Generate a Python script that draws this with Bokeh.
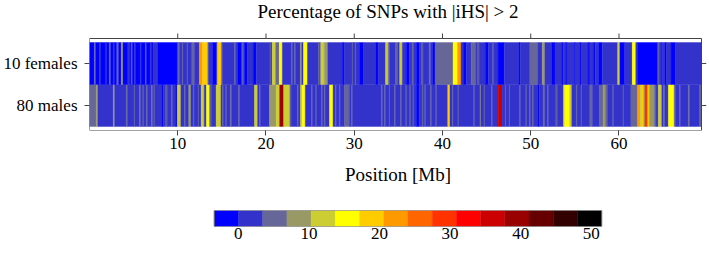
import numpy as np
from bokeh.plotting import figure
from bokeh.models import Range1d, FixedTicker, LinearAxis, ColumnDataSource
from bokeh.core.properties import value
from bokeh.layouts import column
from bokeh.transform import linear_cmap
from bokeh.embed import file_html
from bokeh.resources import INLINE

# ---------------- data ----------------
title_text = "Percentage of SNPs with |iHS| > 2"
x_label = "Position [Mb]"
row_labels = ["80 males", "10 females"]          # bottom row, top row
row_ticks = [0.5, 1.5]
x_ticks = [10, 20, 30, 40, 50, 60]
cbar_ticks = [0, 10, 20, 30, 40, 50]
chrom_end = 69.3                                  # Mb, end of last window

# segment start positions (Mb) and percentage of SNPs with |iHS| > 2
fem_start = [0.0, 0.55, 0.7, 1.15, 1.3, 1.85, 1.95, 2.25, 2.4, 2.7, 2.8, 3.1, 3.3, 3.6, 3.8,
             4.35, 4.6, 4.75, 4.85, 5.1, 5.2, 5.75, 5.85, 6.35, 6.45, 6.9, 7.0, 7.2, 7.75,
             9.95, 10.1, 10.2, 10.5, 10.6, 11.05, 11.15, 11.6, 11.9, 12.45, 12.8, 13.4, 13.5,
             13.95, 14.4, 14.5, 14.95, 15.05, 16.45, 16.55, 16.8, 17.25, 17.35, 17.45, 17.55,
             17.9, 18.55, 18.9, 20.45, 20.55, 20.7, 21.1, 21.5, 21.85, 22.9, 23.0, 23.25, 23.35,
             23.9, 24.05, 24.25, 24.7, 25.95, 26.05, 26.2, 26.6, 27.0, 28.65, 28.85, 29.75,
             29.85, 30.1, 30.2, 30.6, 31.05, 32.45, 32.7, 33.55, 33.85, 34.0, 34.7, 34.95,
             35.15, 35.45, 35.9, 36.25, 36.55, 36.7, 37.05, 37.4, 37.65, 37.8, 38.5, 38.65,
             38.9, 39.15, 41.2, 41.7, 42.1, 42.35, 42.7, 43.25, 43.8, 44.0, 44.15, 44.85, 45.2,
             45.7, 45.8, 46.3, 47.0, 48.65, 48.8, 49.9, 50.8, 51.3, 51.6, 52.4, 52.75, 53.55,
             53.7, 53.95, 54.1, 54.95, 55.1, 55.55, 55.7, 56.5, 56.7, 57.1, 57.3, 57.7, 58.1,
             59.85, 60.1, 60.65, 61.5, 61.9, 62.1, 64.4, 64.55, 64.8, 64.95, 65.2, 65.4, 65.9,
             66.4]
fem_pct = [0, 5, 0, 2, 0, 2, 0, 5, 0, 2, 0, 5, 0, 8.5, 0,
           2, 0, 5, 0, 2, 0, 2, 0, 5, 0, 2, 0, 2, 0,
           2, 5, 2, 5, 2, 5, 2, 5, 2, 22, 19, 5, 2,
           0, 2, 19, 5, 2, 5, 2, 0, 2, 5, 2, 0,
           2, 0, 2, 5, 2, 12, 5, 15.5, 2, 5, 2, 5, 2,
           8.5, 2, 15.5, 2, 5, 2, 12, 8.5, 2, 0, 2, 5,
           2, 5, 2, 0, 2, 0, 2, 12, 5, 2, 5, 2,
           12, 2, 0, 2, 5, 2, 0, 2, 5, 2, 5, 2,
           0, 5, 15.5, 22, 2, 0, 2, 5, 2, 5, 2, 0, 2,
           5, 2, 0, 2, 0, 2, 5, 2, 8.5, 2, 0, 2, 0,
           2, 0, 2, 0, 2, 0, 2, 0, 2, 0, 2, 0, 2,
           12, 0, 2, 15.5, 2, 0, 5, 2, 0, 2, 0, 2, 0,
           2]

male_start = [0.0, 0.75, 0.95, 2.7, 2.85, 4.15, 4.3, 5.05, 5.15, 5.65, 5.8, 6.05, 6.15, 6.45,
              6.55, 7.0, 7.15, 7.3, 7.4, 8.2, 8.35, 8.65, 8.8, 9.3, 9.4, 9.75, 9.95, 10.35,
              10.75, 10.85, 11.25, 11.5, 11.75, 11.85, 12.3, 12.4, 12.65, 13.0, 13.25, 13.6,
              13.8, 14.35, 14.9, 15.05, 15.15, 15.45, 15.55, 15.95, 16.1, 16.9, 17.05, 18.7,
              19.05, 19.25, 19.35, 20.4, 21.15, 21.55, 22.0, 22.7, 22.85, 23.55, 23.65, 23.9,
              24.1, 24.45, 25.15, 25.25, 25.65, 25.75, 26.3, 26.4, 26.6, 26.7, 27.2, 27.6,
              27.85, 27.95, 28.3, 28.4, 28.9, 29.45, 29.7, 29.8, 33.1, 33.2, 33.45, 33.55,
              33.95, 34.05, 34.55, 34.65, 35.25, 35.35, 35.85, 35.95, 36.3, 36.4, 36.65, 36.75,
              37.05, 37.35, 37.7, 37.8, 38.0, 38.1, 38.65, 38.75, 39.25, 39.35, 40.6, 40.85,
              41.1, 41.2, 41.75, 41.85, 43.55, 43.65, 44.25, 44.35, 44.7, 44.8, 45.55, 45.65,
              46.3, 46.75, 47.1, 47.2, 47.55, 47.65, 48.75, 48.85, 49.45, 49.55, 49.85, 49.95,
              50.2, 50.3, 50.8, 50.95, 51.4, 51.6, 51.9, 52.0, 52.85, 53.0, 53.7, 53.85, 54.4,
              54.65, 55.15, 55.25, 55.7, 55.8, 56.7, 57.0, 57.8, 58.2, 58.45, 58.7, 59.3, 59.4,
              60.45, 60.55, 61.35, 62.1, 62.4, 62.6, 62.8, 62.95, 63.25, 63.45, 64.0, 64.2,
              64.45, 64.85, 65.05, 65.2, 65.6, 66.25, 66.4, 66.85, 66.95, 67.85, 68.0, 69.15]
male_pct = [5, 8.5, 2, 8.5, 2, 5, 2, 5, 2, 5, 2, 5, 2, 5,
            2, 5, 2, 5, 2, 0, 2, 5, 2, 5, 2, 0, 12, 2,
            5, 2, 8.5, 2, 5, 2, 5, 2, 12, 2, 15.5, 5,
            2, 12, 2, 5, 2, 5, 2, 5, 2, 5, 2, 12,
            2, 5, 2, 8.5, 12, 39.5, 12, 5, 2, 5, 2, 12,
            15.5, 2, 5, 2, 5, 2, 5, 2, 5, 2, 15.5, 2,
            5, 2, 5, 2, 5, 2, 5, 2, 5, 2, 5, 2,
            5, 2, 5, 2, 5, 2, 5, 2, 5, 2, 5, 2,
            0, 2, 5, 2, 5, 2, 5, 2, 5, 2, 19, 2,
            5, 2, 5, 2, 5, 2, 8.5, 2, 5, 2, 5, 2,
            36, 2, 5, 2, 5, 2, 5, 2, 5, 2, 5, 2,
            5, 2, 0, 2, 5, 2, 5, 2, 5, 2, 12, 15.5, 12,
            2, 5, 2, 5, 2, 5, 2, 5, 8.5, 5, 2, 5, 2,
            5, 2, 5, 22, 12, 19, 8.5, 29, 19, 8.5, 5, 2,
            12, 2, 5, 2, 15.5, 5, 2, 5, 2, 5, 2, 5]

# ---------------- style / layout ----------------
palette = ["#0000FF", "#3333CC", "#666699", "#999966", "#CCCC33", "#FFFF00",
           "#FFCC00", "#FF9900", "#FF6600", "#FF3300", "#FF0000", "#CC0000",
           "#990000", "#660000", "#330000", "#000000"]
c_low, c_high = -3.4, 51.48
FONT = "Liberation Serif"
FRAME = "#444444"

W = 708                 # figure width
FL, FR = 88, 706        # frame left / right in px (box right at 701 + 5px tick zone)
TICK = 5                # tick length px
BOX_X = (0, 69.35)      # plot box in data units
BOX_Y = (-0.095, 2.095)
BOX_TOP, BOX_BOT = 38, 130
TITLE_X, TITLE_BASE = 387, 11   # title centre x and baseline y (px)

px_x = (FR - TICK - FL) / (BOX_X[1] - BOX_X[0])
px_y = (BOX_BOT - BOX_TOP) / (BOX_Y[1] - BOX_Y[0])
x_end = BOX_X[1] + TICK / px_x
y_end = BOX_Y[1] + BOX_TOP / px_y          # frame reaches the figure top


def segments(starts, pcts, row):
    return dict(left=list(starts),
                right=list(starts[1:]) + [chrom_end],
                bottom=[row] * len(starts),
                top=[row + 1] * len(starts),
                pct=list(pcts))


m = segments(male_start, male_pct, 0)
f = segments(fem_start, fem_pct, 1)
src = ColumnDataSource({k: m[k] + f[k] for k in m})

H1 = 190
p = figure(width=W, height=H1, x_range=Range1d(BOX_X[0], x_end), y_range=Range1d(BOX_Y[0], y_end),
           output_backend="svg", toolbar_location=None, title=None,
           x_axis_location=None, y_axis_location=None,
           min_border_left=FL, min_border_right=W - FR, min_border_top=0,
           min_border_bottom=H1 - BOX_BOT)
p.outline_line_color = None
p.grid.visible = False

cmap = linear_cmap("pct", palette, c_low, c_high)
p.quad(left="left", right="right", bottom="bottom", top="top", source=src,
       fill_color=cmap, line_color=cmap, line_width=0.4)

# plot box and outward ticks on top / right
p.quad(left=BOX_X[0], right=BOX_X[1], bottom=BOX_Y[0], top=BOX_Y[1],
       fill_color=None, line_color=FRAME, line_width=1)
y_tick_top = BOX_Y[1] + TICK / px_y
p.segment(x0=x_ticks, x1=x_ticks, y0=[BOX_Y[1]] * len(x_ticks), y1=[y_tick_top] * len(x_ticks),
          line_color=FRAME, line_width=1)
p.segment(x0=[BOX_X[1]] * len(row_ticks), x1=[x_end] * len(row_ticks), y0=row_ticks, y1=row_ticks,
          line_color=FRAME, line_width=1)

# title
p.text(x=[BOX_X[0] + (TITLE_X - FL) / px_x], y=[BOX_Y[1] + (BOX_TOP - TITLE_BASE) / px_y],
       text=[title_text], text_font=value(FONT), text_font_size="19px",
       text_align="center", text_baseline="alphabetic", text_color="black")


def make_axis(ticks):
    ax = LinearAxis(ticker=FixedTicker(ticks=ticks))
    ax.axis_line_color = None
    ax.major_tick_in = 0
    ax.major_tick_out = TICK
    ax.major_tick_line_color = FRAME
    ax.minor_tick_line_color = None
    ax.major_label_text_font = FONT
    ax.major_label_text_font_size = "17px"
    ax.major_label_text_color = "black"
    ax.major_label_standoff = 2
    return ax


xb = make_axis(x_ticks)
xb.axis_label = x_label
xb.axis_label_text_font = FONT
xb.axis_label_text_font_size = "19px"
xb.axis_label_text_font_style = "normal"
xb.axis_label_text_color = "black"
xb.axis_label_standoff = 12
p.add_layout(xb, "below")
yl = make_axis(row_ticks)
yl.major_label_overrides = {t: lab for t, lab in zip(row_ticks, row_labels)}
yl.major_label_standoff = 7
p.add_layout(yl, "left")

# ---------------- colour bar ----------------
BAR_L, BAR_R = 213, 601
u = (c_high - c_low) / (BAR_R - BAR_L)
H2 = 64
cb = figure(width=W, height=H2, x_range=Range1d(c_low - (BAR_L - FL) * u, c_high + (FR - BAR_R) * u),
            y_range=Range1d(0, 1), output_backend="svg", toolbar_location=None, title=None,
            x_axis_location=None, y_axis_location=None,
            min_border_left=FL, min_border_right=W - FR, min_border_top=20, min_border_bottom=28)
cb.outline_line_color = None
cb.grid.visible = False
edges = np.linspace(c_low, c_high, len(palette) + 1)
cb.quad(left=edges[:-1], right=edges[1:], bottom=0, top=1,
        fill_color=palette, line_color=palette, line_width=0.4)
cb.quad(left=c_low, right=c_high, bottom=0, top=1, fill_color=None,
        line_color="#666666", line_width=1)
cax = LinearAxis(ticker=FixedTicker(ticks=cbar_ticks))
cax.axis_line_color = None
cax.major_tick_line_color = None
cax.minor_tick_line_color = None
cax.major_label_text_font = FONT
cax.major_label_text_font_size = "17px"
cax.major_label_text_color = "black"
cax.major_label_standoff = -5
cb.add_layout(cax, "below")

layout = column(p, cb)

open("out.html", "w").write(file_html(layout, INLINE))
